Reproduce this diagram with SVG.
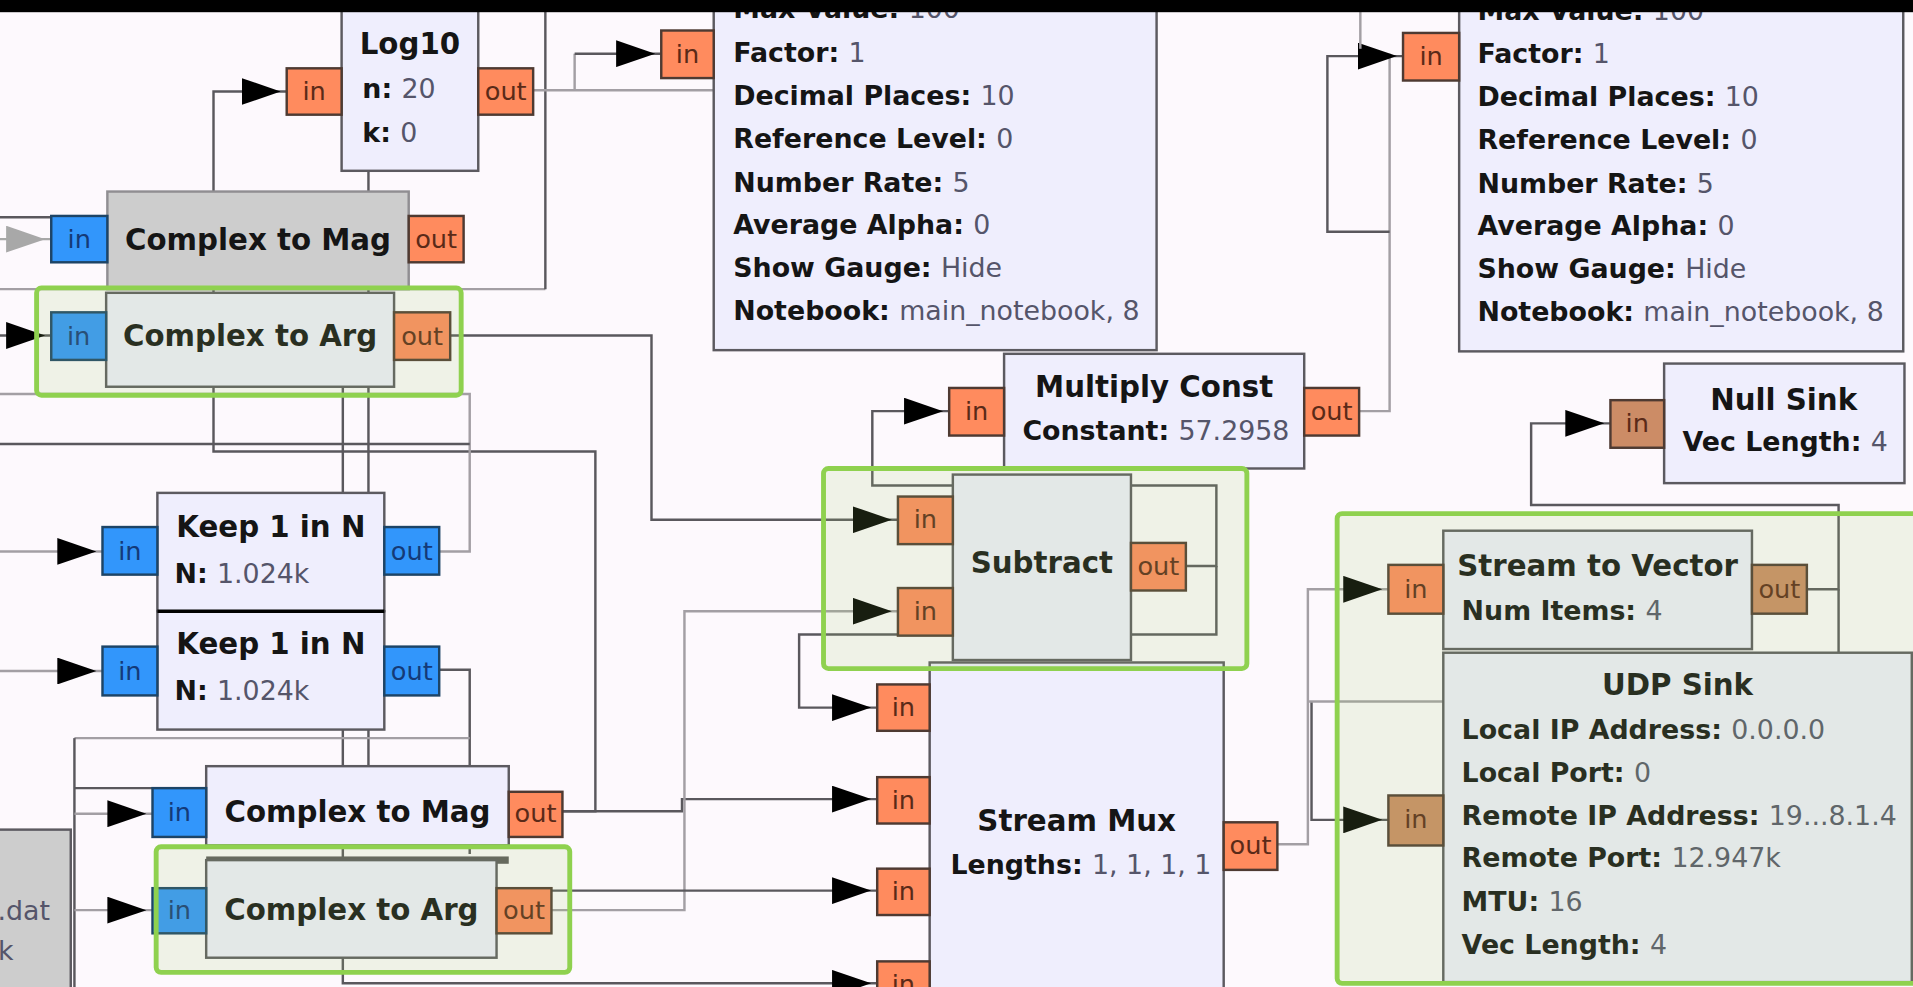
<svg xmlns="http://www.w3.org/2000/svg" width="1913" height="987" viewBox="0 0 1913 987">
<defs>
<style>
.blk{fill:#efeefd;stroke:#5c5a60;stroke-width:2}
.dis{fill:#cdcdcd;stroke:#908e92;stroke-width:2}
.po{fill:#ff8b5e;stroke:#4e3a32;stroke-width:2}
.pb{fill:#3296fb;stroke:#1d4466;stroke-width:2}
.pt{fill:#cc8c66;stroke:#4e3a32;stroke-width:2}
.pl{font-family:"DejaVu Sans",sans-serif;font-size:21px;text-anchor:middle;fill:#5a2a18}
.plb{fill:#143a78}
.t{font-family:"DejaVu Sans",sans-serif;font-size:22px;font-weight:bold;fill:#151515}
.tc{text-anchor:middle;font-size:24px}
.v{font-weight:normal;fill:#55556a}
.sel{fill:rgb(160,200,110);fill-opacity:0.15;stroke:#8fd14f;stroke-width:4}
.c{fill:none;stroke:#5a585d;stroke-width:2}
.cl{fill:none;stroke:#a39fa4;stroke-width:2}
.cg{fill:none;stroke:#a8a8a8;stroke-width:2}
</style>
<marker id="arr" viewBox="0 0 37 22" refX="37" refY="11" markerWidth="37" markerHeight="22" markerUnits="userSpaceOnUse" orient="auto">
<path d="M0,0 L32,11 L0,22 Z" fill="#000"/>
</marker>
<marker id="arrg" viewBox="0 0 37 22" refX="37" refY="11" markerWidth="37" markerHeight="22" markerUnits="userSpaceOnUse" orient="auto">
<path d="M0,0 L32,11 L0,22 Z" fill="#a8a8a8"/>
</marker>
</defs>
<rect x="0" y="0" width="1913" height="987" fill="#fdf9fd"/>
<g transform="scale(1.22003)">
<g id="connectors">
<path class="c" d="M0 178 H42"/>
<path class="cg" d="M-10 196 H42" marker-end="url(#arrg)"/>
<path class="c" d="M-10 275 H42" marker-end="url(#arr)"/>
<path class="cl" d="M0 237 H447"/>
<path class="c" d="M447 237 V0"/>
<path class="c" d="M461 665 H488 V370 H175 V75 H235" marker-end="url(#arr)"/>
<path class="c" d="M302 140 V628"/>
<path class="c" d="M281 300 V806 H719" marker-end="url(#arr)"/>
<path class="cl" d="M437 74 H585"/>
<path class="cl" d="M471 74 V44"/>
<path class="c" d="M471 44 H542" marker-end="url(#arr)"/>
<path class="c" d="M369 275 H534 V426 H736" marker-end="url(#arr)"/>
<path class="cl" d="M360 452 H385 V323 H0"/>
<path class="c" d="M0 364 H385"/>
<path class="cl" d="M0 452 H84" marker-end="url(#arr)"/>
<path class="cl" d="M0 550 H84" marker-end="url(#arr)"/>
<path class="c" d="M360 549 H385 V700"/>
<path class="cl" d="M61 605 H385"/>
<path class="c" d="M61 605 V809"/>
<path class="c" d="M61 646 H125"/>
<path class="cl" d="M61 667 H125" marker-end="url(#arr)"/>
<path class="cl" d="M61 746 H125" marker-end="url(#arr)"/>
<path class="c" d="M461 665 H559 V655 H719" marker-end="url(#arr)"/>
<path class="cl" d="M452 746 H561 V501 H736" marker-end="url(#arr)"/>
<path class="c" d="M452 730 H719" marker-end="url(#arr)"/>
<path class="c" d="M972 464 H997 V398 H715 V337 H778" marker-end="url(#arr)"/>
<path class="c" d="M997 464 V520 H655 V580 H719" marker-end="url(#arr)"/>
<path class="cl" d="M1114 337 H1139 V44"/>
<path class="c" d="M1139 190 H1088 V46 H1150" marker-end="url(#arr)"/>
<path class="cl" d="M1115 0 V40"/>
<path class="c" d="M1481 483 H1507 V414 H1255 V347 H1320" marker-end="url(#arr)"/>
<path class="c" d="M1507 483 V536"/>
<path class="cl" d="M1046 692 H1072 V483 H1138" marker-end="url(#arr)"/>
<path class="c" d="M1075 575 V672 H1138" marker-end="url(#arr)"/>
<path class="cl" d="M1073 575 H1183"/>
</g>
<g id="file-source">
<rect class="dis" x="-10" y="680" width="68" height="140" style="stroke:#5c5a60"/>
<text class="t v" x="41" y="754" text-anchor="end">.dat</text>
<text class="t v" x="11" y="787" text-anchor="end">k</text>
</g>
<g id="log10">
<rect class="blk" x="280" y="-5" width="112" height="145"/>
<text class="t tc" x="336" y="44">Log10</text>
<text class="t" x="297" y="80">n: <tspan class="v">20</tspan></text>
<text class="t" x="297" y="116">k: <tspan class="v">0</tspan></text>
<rect class="po" x="235" y="56" width="45" height="38"/><text class="pl" x="257.5" y="82">in</text>
<rect class="po" x="392" y="56" width="45" height="38"/><text class="pl" x="414.5" y="82">out</text>
</g>
<g id="complex-to-mag-1">
<rect class="dis" x="88" y="157" width="247" height="80"/>
<text class="t tc" x="211.5" y="205">Complex to Mag</text>
<rect class="pb" x="42" y="177" width="46" height="38"/><text class="pl plb" x="65" y="203">in</text>
<rect class="po" x="335" y="177" width="45" height="38"/><text class="pl" x="357.5" y="203">out</text>
</g>
<g id="complex-to-arg-1">
<rect class="blk" x="87" y="240" width="236" height="77"/>
<text class="t tc" x="205" y="284">Complex to Arg</text>
<rect class="pb" x="42" y="256" width="45" height="39"/><text class="pl plb" x="64.5" y="283">in</text>
<rect class="po" x="323" y="256" width="46" height="39"/><text class="pl" x="346" y="283">out</text>
<rect class="sel" x="30" y="236" width="348" height="88" rx="4"/>
</g>
<g id="number-sink-1">
<rect class="blk" x="585" y="-5" width="363" height="292"/>
<text class="t" x="601" y="15">Max Value: <tspan class="v">100</tspan></text>
<text class="t" x="601" y="51">Factor: <tspan class="v">1</tspan></text>
<text class="t" x="601" y="86">Decimal Places: <tspan class="v">10</tspan></text>
<text class="t" x="601" y="121">Reference Level: <tspan class="v">0</tspan></text>
<text class="t" x="601" y="157">Number Rate: <tspan class="v">5</tspan></text>
<text class="t" x="601" y="192">Average Alpha: <tspan class="v">0</tspan></text>
<text class="t" x="601" y="227">Show Gauge: <tspan class="v">Hide</tspan></text>
<text class="t" x="601" y="262">Notebook: <tspan class="v">main_notebook, 8</tspan></text>
<rect class="po" x="542" y="25" width="43" height="39"/><text class="pl" x="563.5" y="51.5">in</text>
</g>
<g id="number-sink-2">
<rect class="blk" x="1196" y="-5" width="364" height="293"/>
<text class="t" x="1211" y="16">Max Value: <tspan class="v">100</tspan></text>
<text class="t" x="1211" y="52">Factor: <tspan class="v">1</tspan></text>
<text class="t" x="1211" y="87">Decimal Places: <tspan class="v">10</tspan></text>
<text class="t" x="1211" y="122">Reference Level: <tspan class="v">0</tspan></text>
<text class="t" x="1211" y="158">Number Rate: <tspan class="v">5</tspan></text>
<text class="t" x="1211" y="193">Average Alpha: <tspan class="v">0</tspan></text>
<text class="t" x="1211" y="228">Show Gauge: <tspan class="v">Hide</tspan></text>
<text class="t" x="1211" y="263">Notebook: <tspan class="v">main_notebook, 8</tspan></text>
<rect class="po" x="1150" y="27" width="46" height="39"/><text class="pl" x="1173" y="53">in</text>
</g>
<g id="keep-1">
<rect class="blk" x="129" y="404" width="186" height="97"/>
<text class="t tc" x="222" y="440">Keep 1 in N</text>
<text class="t" x="143" y="478">N: <tspan class="v">1.024k</tspan></text>
<rect class="pb" x="84" y="432" width="45" height="39"/><text class="pl plb" x="106.5" y="459">in</text>
<rect class="pb" x="315" y="432" width="45" height="39"/><text class="pl plb" x="337.5" y="459">out</text>
</g>
<g id="keep-2">
<rect class="blk" x="129" y="501" width="186" height="97"/>
<path d="M129 501 H315" stroke="#000" stroke-width="3"/>
<text class="t tc" x="222" y="536">Keep 1 in N</text>
<text class="t" x="143" y="574">N: <tspan class="v">1.024k</tspan></text>
<rect class="pb" x="84" y="530" width="45" height="40"/><text class="pl plb" x="106.5" y="557">in</text>
<rect class="pb" x="315" y="530" width="45" height="40"/><text class="pl plb" x="337.5" y="557">out</text>
</g>
<g id="complex-to-mag-2">
<rect class="blk" x="169" y="628" width="248" height="65"/>
<text class="t tc" x="293" y="674">Complex to Mag</text>
<rect class="pb" x="125" y="646" width="44" height="40"/><text class="pl plb" x="147" y="673">in</text>
<rect class="po" x="417" y="649" width="44" height="37"/><text class="pl" x="439" y="674">out</text>
</g>
<g id="complex-to-arg-2">
<rect x="169" y="702" width="248" height="6" fill="#5c5a5c"/>
<rect class="blk" x="169" y="705" width="238" height="80"/>
<text class="t tc" x="288" y="754">Complex to Arg</text>
<rect class="pb" x="125" y="728" width="44" height="37"/><text class="pl plb" x="147" y="753">in</text>
<rect class="po" x="407" y="728" width="45" height="37"/><text class="pl" x="429.5" y="753">out</text>
<rect class="sel" x="128" y="694" width="339" height="103" rx="4"/>
</g>
<g id="stream-mux">
<rect class="blk" x="762" y="543" width="241" height="300"/>
<text class="t tc" x="882.5" y="681">Stream Mux</text>
<text class="t" x="779" y="716">Lengths: <tspan class="v">1, 1, 1, 1</tspan></text>
<rect class="po" x="719" y="561" width="43" height="38"/><text class="pl" x="740.5" y="587">in</text>
<rect class="po" x="719" y="637" width="43" height="38"/><text class="pl" x="740.5" y="663">in</text>
<rect class="po" x="719" y="712" width="43" height="38"/><text class="pl" x="740.5" y="738">in</text>
<rect class="po" x="719" y="788" width="43" height="38"/><text class="pl" x="740.5" y="814">in</text>
<rect class="po" x="1003" y="674" width="44" height="39"/><text class="pl" x="1025" y="700">out</text>
</g>
<g id="multiply-const">
<rect class="blk" x="823" y="290" width="246" height="94"/>
<text class="t tc" x="946" y="325">Multiply Const</text>
<text class="t" x="838" y="361">Constant: <tspan class="v">57.2958</tspan></text>
<rect class="po" x="778" y="318" width="45" height="39"/><text class="pl" x="800.5" y="344">in</text>
<rect class="po" x="1069" y="318" width="45" height="39"/><text class="pl" x="1091.5" y="344">out</text>
</g>
<g id="subtract">
<rect class="blk" x="781" y="389" width="146" height="152"/>
<text class="t tc" x="854" y="470">Subtract</text>
<rect class="po" x="736" y="407" width="45" height="39"/><text class="pl" x="758.5" y="433">in</text>
<rect class="po" x="736" y="482" width="45" height="39"/><text class="pl" x="758.5" y="508">in</text>
<rect class="po" x="927" y="445" width="45" height="39"/><text class="pl" x="949.5" y="471">out</text>
<rect class="sel" x="675" y="384" width="347" height="164" rx="4"/>
</g>
<g id="null-sink">
<rect class="blk" x="1364" y="298" width="197" height="98"/>
<text class="t tc" x="1462" y="336">Null Sink</text>
<text class="t" x="1379" y="370">Vec Length: <tspan class="v">4</tspan></text>
<rect class="pt" x="1320" y="328" width="44" height="39"/><text class="pl" x="1342" y="354">in</text>
</g>
<g id="stream-to-vector">
<rect class="blk" x="1183" y="435" width="253" height="97"/>
<text class="t tc" x="1309.5" y="472">Stream to Vector</text>
<text class="t" x="1198" y="508">Num Items: <tspan class="v">4</tspan></text>
<rect class="po" x="1138" y="463" width="45" height="40"/><text class="pl" x="1160.5" y="490">in</text>
<rect class="pt" x="1436" y="463" width="45" height="40"/><text class="pl" x="1458.5" y="490">out</text>
</g>
<g id="udp-sink">
<rect class="blk" x="1183" y="535" width="384" height="270"/>
<text class="t tc" x="1375" y="570">UDP Sink</text>
<text class="t" x="1198" y="606">Local IP Address: <tspan class="v">0.0.0.0</tspan></text>
<text class="t" x="1198" y="641">Local Port: <tspan class="v">0</tspan></text>
<text class="t" x="1198" y="676">Remote IP Address: <tspan class="v">19...8.1.4</tspan></text>
<text class="t" x="1198" y="711">Remote Port: <tspan class="v">12.947k</tspan></text>
<text class="t" x="1198" y="747">MTU: <tspan class="v">16</tspan></text>
<text class="t" x="1198" y="782">Vec Length: <tspan class="v">4</tspan></text>
<rect class="pt" x="1138" y="652" width="45" height="41"/><text class="pl" x="1160.5" y="679">in</text>
</g>
<g id="selection-udp">
<rect class="sel" x="1096" y="421" width="490" height="385" rx="4"/>
</g>
<rect x="0" y="0" width="1568" height="10" fill="#000"/>
</g>
</svg>
